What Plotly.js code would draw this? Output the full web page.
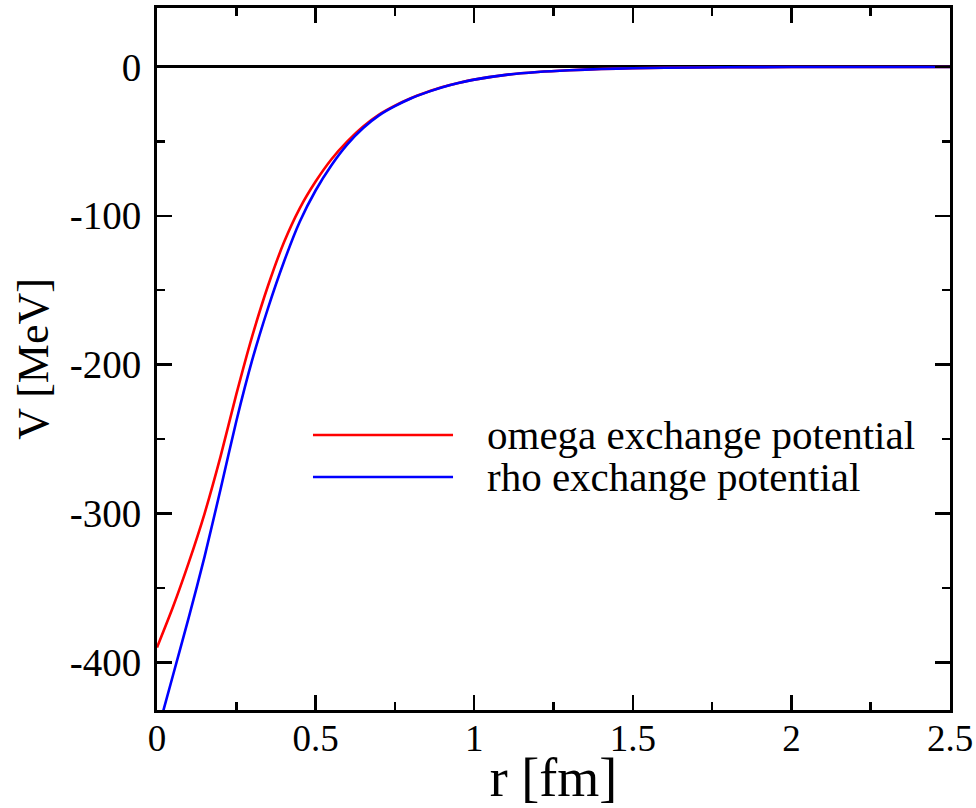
<!DOCTYPE html>
<html>
<head>
<meta charset="utf-8">
<script src="https://cdn.plot.ly/plotly-3.0.1.min.js"></script>
<style>html,body{margin:0;padding:0;background:#fff;}#chart{width:976px;height:808px;}</style>
</head>
<body>
<div id="chart"></div>
<script>
// omega exchange potential
var omegaR = [0, 0.05, 0.1, 0.15, 0.2, 0.25, 0.3, 0.35, 0.4, 0.45, 0.5, 0.55, 0.6, 0.65, 0.7, 0.75, 0.8, 0.85, 0.9, 0.95, 1.0, 1.1, 1.2, 1.3, 1.4, 1.5, 1.6, 1.8, 2.0, 2.5];
var omegaV = [-390, -363, -333, -300, -262, -220, -181, -147, -118, -95, -77, -62, -50, -40, -32, -26, -21, -17, -13.5, -10.8, -8.5, -5.3, -3.4, -2.2, -1.4, -0.9, -0.55, -0.2, -0.08, 0];
// rho exchange potential
var rhoR = [0, 0.05, 0.1, 0.15, 0.2, 0.25, 0.3, 0.35, 0.4, 0.45, 0.5, 0.55, 0.6, 0.65, 0.7, 0.75, 0.8, 0.85, 0.9, 0.95, 1.0, 1.1, 1.2, 1.3, 1.4, 1.5, 1.6, 1.8, 2.0, 2.5];
var rhoV = [-448, -409, -370, -329, -284, -238, -197, -162, -131, -104, -83, -66, -52, -41, -32.5, -26.3, -21.2, -17.1, -13.6, -10.8, -8.5, -5.3, -3.4, -2.2, -1.4, -0.9, -0.55, -0.2, -0.08, 0];

var seriesNames = ['omega exchange potential', 'rho exchange potential'];
var xTickVals = [0, 0.5, 1, 1.5, 2, 2.5];
var xTickText = ['0', '0.5', '1', '1.5', '2', '2.5'];
var yTickVals = [-400, -300, -200, -100, 0];
var yTickText = ['-400', '-300', '-200', '-100', '0'];

var FONT = '"Liberation Serif", "Times New Roman", serif';

var traces = [
  {x: omegaR, y: omegaV, name: seriesNames[0], type: 'scatter', mode: 'lines',
   line: {color: '#ff0000', width: 2.6, shape: 'spline', smoothing: 0.6}, showlegend: false},
  {x: rhoR, y: rhoV, name: seriesNames[1], type: 'scatter', mode: 'lines',
   line: {color: '#0000ff', width: 2.6, shape: 'spline', smoothing: 0.6}, showlegend: false}
];

var axisCommon = {
  showline: true, linecolor: '#000', linewidth: 3, mirror: 'ticks',
  ticks: 'inside', ticklen: 15, tickwidth: 2.5, tickcolor: '#000',
  showgrid: false
};

var layout = {
  width: 976, height: 808,
  margin: {l: 157, r: 26, t: 8, b: 98},
  paper_bgcolor: '#fff', plot_bgcolor: '#fff',
  font: {family: FONT, color: '#000'},
  showlegend: false,
  xaxis: Object.assign({}, axisCommon, {
    range: [0, 2.5], tickmode: 'array', tickvals: xTickVals, ticktext: xTickText,
    zeroline: false, ticklabelstandoff: -6,
    tickfont: {family: FONT, size: 37, color: '#000'},
    minor: {dtick: 0.25, ticks: 'inside', ticklen: 8, tickwidth: 2.5, tickcolor: '#000', showgrid: false},
    title: {text: 'r [fm]', font: {family: FONT, size: 54, color: '#000'}, standoff: 2}
  }),
  yaxis: Object.assign({}, axisCommon, {
    range: [-432, 39.6], tickmode: 'array', tickvals: yTickVals, ticktext: yTickText,
    zeroline: true, zerolinecolor: '#000', zerolinewidth: 3, ticklabelstandoff: 5,
    tickfont: {family: FONT, size: 39, color: '#000'},
    minor: {dtick: 50, ticks: 'inside', ticklen: 8, tickwidth: 2.5, tickcolor: '#000', showgrid: false},
    title: {text: 'V [MeV]', font: {family: FONT, size: 44, color: '#000'}, standoff: 8}
  }),
  shapes: [
    {type: 'line', xref: 'paper', yref: 'paper', x0: 0.1967, x1: 0.3733, y0: 0.3917, y1: 0.3917,
     line: {color: '#ff0000', width: 2.6}},
    {type: 'line', xref: 'paper', yref: 'paper', x0: 0.1967, x1: 0.3733, y0: 0.3319, y1: 0.3319,
     line: {color: '#0000ff', width: 2.6}}
  ],
  annotations: [
    {xref: 'paper', yref: 'paper', x: 0.414, y: 0.3917, xanchor: 'left', yanchor: 'middle',
     text: seriesNames[0], showarrow: false, font: {family: FONT, size: 41, color: '#000'}},
    {xref: 'paper', yref: 'paper', x: 0.414, y: 0.3319, xanchor: 'left', yanchor: 'middle',
     text: seriesNames[1], showarrow: false, font: {family: FONT, size: 41, color: '#000'}}
  ]
};

Plotly.newPlot('chart', traces, layout, {displayModeBar: false, staticPlot: true});
</script>
</body>
</html>
